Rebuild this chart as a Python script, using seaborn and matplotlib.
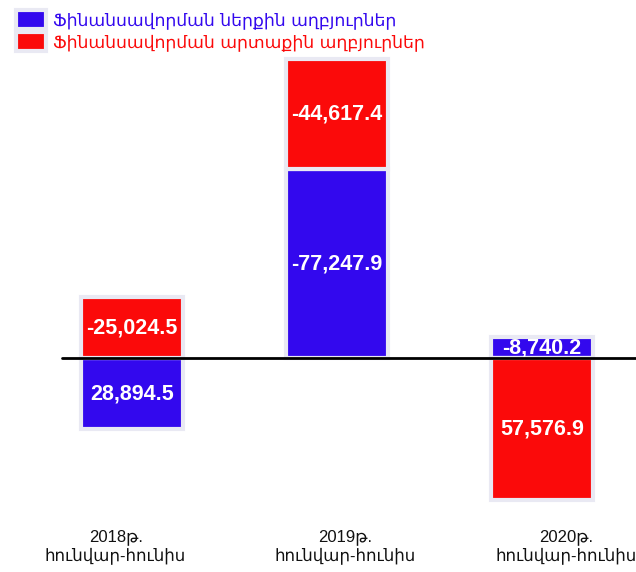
import matplotlib.pyplot as plt
import numpy as np
import seaborn as sns

periods = ["2018թ.\nհունվար-հունիս", "2019թ.\nհունվար-հունիս", "2020թ.\nհունվար-հունիս"]
internal = [28894.5, -77247.9, -8740.2]
external = [-25024.5, -44617.4, 57576.9]
series_names = ["Ֆինանսավորման ներքին աղբյուրներ", "Ֆինանսավորման արտաքին աղբյուրներ"]

BLUE = "#3308ee"
RED = "#fb0a0a"
EDGE = "#e9e9f3"

sns.set_theme(style="white")
plt.rcParams["font.family"] = ["Liberation Sans", "DejaVu Sans"]

fig = plt.figure(figsize=(6.36, 5.72), dpi=100)
ax = fig.add_axes([0, 0.09, 1, 0.91])

x = np.arange(len(periods))
internal = np.array(internal)
external = np.array(external)
# stack the external bar on top of the internal one when both share a sign
bottom = np.where(np.sign(internal) == np.sign(external), internal, 0)

ax.bar(x, internal, width=0.5, color=BLUE, edgecolor=EDGE, linewidth=3,
       label=series_names[0])
ax.bar(x, external, width=0.5, bottom=bottom, color=RED, edgecolor=EDGE,
       linewidth=3, label=series_names[1])

for xi, v in zip(x, internal):
    ax.text(xi, v / 2, f"{v:,.1f}", ha="center", va="center", color="white",
            fontsize=15.5, fontweight="bold")
for xi, v, b in zip(x, external, bottom):
    ax.text(xi, b + v / 2, f"{v:,.1f}", ha="center", va="center", color="white",
            fontsize=15.5, fontweight="bold")

ax.axhline(0, xmin=0.097, xmax=1, color="black", linewidth=2, zorder=5)

ax.set_xlim(-0.644, 2.459)
ax.set_ylim(66000, -146000)  # inverted: positive values hang below the line
label_shift = [-0.08, 0.04, 0.12]
ax.set_xticks(x + np.array(label_shift))
ax.set_xticklabels(periods, fontsize=12, color="#111111")
ax.tick_params(axis="x", length=0, pad=6)
ax.set_yticks([])
for s in ax.spines.values():
    s.set_visible(False)

leg = ax.legend(loc="upper left", bbox_to_anchor=(0.0, 1.01), frameon=False,
                fontsize=12.4, handlelength=1.75, handleheight=1.3,
                handletextpad=0.45, labelspacing=0.15, borderaxespad=0.5)
for txt, col in zip(leg.get_texts(), [BLUE, RED]):
    txt.set_color(col)
    txt.set_family("DejaVu Sans")

fig.savefig("out.png", dpi=100)
